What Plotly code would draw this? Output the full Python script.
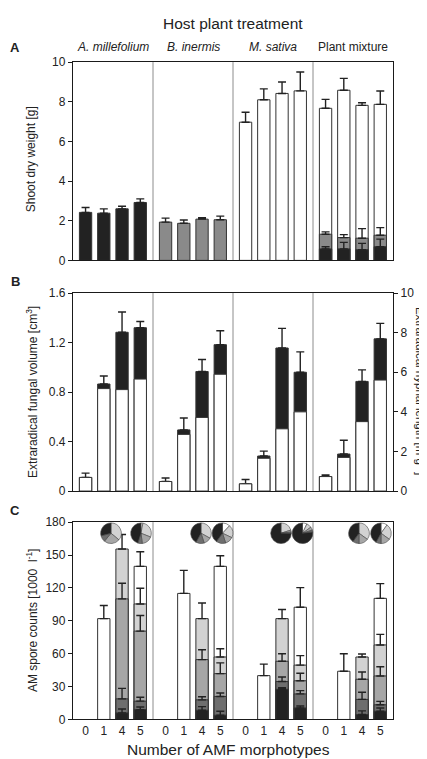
import plotly.graph_objects as go

W, H = 427, 759

# ---------------- data ----------------
groups = ["A. millefolium", "B. inermis", "M. sativa", "Plant mixture"]
group_italic = [True, True, True, False]
morphotypes = ["0", "1", "4", "5"]

# Panel A: shoot dry weight [g]
shoot_amill = [2.42, 2.38, 2.60, 2.92]
shoot_amill_err = [0.25, 0.22, 0.13, 0.18]
shoot_binerm = [1.93, 1.87, 2.08, 2.05]
shoot_binerm_err = [0.20, 0.17, 0.07, 0.18]
shoot_msat = [6.97, 8.10, 8.42, 8.55]
shoot_msat_err = [0.50, 0.55, 0.58, 0.95]
# plant mixture: components stacked (A. millefolium, B. inermis, M. sativa)
mix_amill = [0.58, 0.58, 0.54, 0.69]
mix_amill_err = [0.11, 0.33, 0.32, 0.38]
mix_binerm = [0.74, 0.57, 0.58, 0.58]
mix_binerm_err = [0.12, 0.15, 0.48, 0.38]
mix_msat = [6.35, 7.43, 6.70, 6.60]
mix_msat_err = [0.45, 0.60, 0.13, 0.67]

# Panel B: extraradical fungal volume (white) + hyphal part (black), per group x morphotype
fung_white = [0.110, 0.828, 0.820, 0.905,
              0.077, 0.458, 0.595, 0.944,
              0.058, 0.265, 0.503, 0.640,
              0.117, 0.272, 0.561, 0.897]
fung_black = [0.000, 0.037, 0.463, 0.415,
              0.000, 0.036, 0.371, 0.239,
              0.000, 0.018, 0.653, 0.320,
              0.000, 0.027, 0.325, 0.333]
fung_err = [0.035, 0.065, 0.164, 0.050,
            0.029, 0.096, 0.097, 0.113,
            0.035, 0.040, 0.159, 0.165,
            0.013, 0.111, 0.093, 0.125]

# Panel C: AM spore counts [1000 l-1]
spore_single = [92, 115, 40, 44]          # 1 morphotype bars
spore_single_err = [12, 21, 10.5, 16]
# stacked bars ordered (g1-4, g1-5, g2-4, g2-5, g3-4, g3-5, g4-4, g4-5)
spore_m1 = [6.0, 9.0, 8.4, 3.9, 27.5, 10.5, 4.5, 7.5]
spore_m1_err = [3.6, 2.4, 3.3, 3.6, 1.5, 1.8, 3.3, 3.0]
spore_m2 = [12.8, 7.7, 9.5, 17.1, 7.1, 12.8, 13.8, 5.9]
spore_m2_err = [9.6, 3.6, 2.8, 3.2, 4.2, 3.0, 6.5, 3.1]
spore_m3 = [91.2, 63.9, 36.7, 20.8, 18.5, 12.0, 18.4, 26.3]
spore_m3_err = [14.3, 14.3, 9.0, 9.8, 6.9, 6.8, 6.6, 8.4]
spore_m4 = [45.5, 24.8, 37.4, 15.2, 38.9, 14.3, 20.3, 28.3]
spore_m4_err = [13.2, 14.3, 14.3, 7.5, 8.3, 8.6, 2.7, 9.6]
spore_m5 = [None, 34.3, None, 82.7, None, 52.8, None, 42.5]
spore_m5_err = [0, 13.3, 0, 9.6, 0, 17.9, 0, 13.4]

# pie charts: morphotype shares, clockwise from 12 o'clock (m5, m4, m3, m2, m1)
pie_labels = ["m5", "m4", "m3", "m2", "m1"]
pie_shares = [
    [0.00, 0.36, 0.25, 0.10, 0.29],
    [0.03, 0.28, 0.17, 0.07, 0.45],
    [0.00, 0.33, 0.12, 0.13, 0.42],
    [0.12, 0.20, 0.13, 0.15, 0.40],
    [0.00, 0.20, 0.03, 0.02, 0.75],
    [0.07, 0.08, 0.05, 0.03, 0.77],
    [0.00, 0.35, 0.15, 0.10, 0.40],
    [0.10, 0.25, 0.15, 0.08, 0.42],
]

# ---------------- style / layout ----------------
FONT = "Liberation Sans, Arial, sans-serif"
TXT = "#222222"
OUT = "#333333"
ERR = "#222222"
BLACK = "#222222"
DGRAY = "#6e6e6e"
MGRAY = "#a6a6a6"
LGRAY = "#d2d2d2"
WHITE = "#ffffff"
AGRAY = "#8a8a8a"
SEP = "#8c8c8c"

BW = 0.154
OFF0, STEP = 0.157, 0.228


def xpos(g, i):
    return g + OFF0 + STEP * i


X_L, X_R = 65, 385
PANELS = {"A": (48, 250), "B": (283.3, 485), "C": (516.7, 717.7)}


def ydom(top, bottom):
    return [1 - bottom / H, 1 - top / H]


def px(x):
    return x / W


def py(y):
    return 1 - y / H


fig = go.Figure()


def add_stack(xs, segments, errs, colors, xa, ya):
    n = len(xs)
    run = [0.0] * n
    cum = []
    for seg in segments:
        tops = []
        for j in range(n):
            if seg[j] is None:
                tops.append(None)
            else:
                run[j] += seg[j]
                tops.append(run[j])
        cum.append(tops)
    for k in reversed(range(len(segments))):
        e = errs[k]
        fig.add_trace(go.Bar(
            x=xs, y=cum[k], width=BW,
            marker=dict(color=colors[k], line=dict(color=OUT, width=1)),
            error_y=dict(type="data", symmetric=False,
                         array=[v if v is not None else 0 for v in e] if e is not None else [0] * n,
                         arrayminus=[0] * n, color=ERR, thickness=1.4, width=4,
                         visible=e is not None),
            xaxis=xa, yaxis=ya, showlegend=False, hoverinfo="skip"))


# Panel A
add_stack([xpos(0, i) for i in range(4)], [shoot_amill], [shoot_amill_err], [BLACK], "x", "y")
add_stack([xpos(1, i) for i in range(4)], [shoot_binerm], [shoot_binerm_err], [AGRAY], "x", "y")
add_stack([xpos(2, i) for i in range(4)], [shoot_msat], [shoot_msat_err], [WHITE], "x", "y")
add_stack([xpos(3, i) for i in range(4)], [mix_amill, mix_binerm, mix_msat],
          [mix_amill_err, mix_binerm_err, mix_msat_err], [BLACK, AGRAY, WHITE], "x", "y")

# Panel B
xs16 = [xpos(g, i) for g in range(4) for i in range(4)]
add_stack(xs16, [fung_white, fung_black], [None, fung_err], [WHITE, BLACK], "x2", "y2")
fig.add_trace(go.Scatter(x=[None], y=[None], xaxis="x2", yaxis="y4", showlegend=False,
                         hoverinfo="skip"))

# Panel C
add_stack([xpos(g, 1) for g in range(4)], [spore_single], [spore_single_err], [WHITE], "x3", "y3")
xs8 = [xpos(g, i) for g in range(4) for i in (2, 3)]
add_stack(xs8, [spore_m1, spore_m2, spore_m3, spore_m4, spore_m5],
          [spore_m1_err, spore_m2_err, spore_m3_err, spore_m4_err, spore_m5_err],
          [BLACK, DGRAY, MGRAY, LGRAY, WHITE], "x3", "y3")

# pies
PIE_CX = [103, 133, 193, 214.5, 273, 294.5, 351, 373]
PIE_CY = 528
PIE_R = 10.5
for k, shares in enumerate(pie_shares):
    cx = PIE_CX[k]
    fig.add_trace(go.Pie(
        labels=pie_labels, values=shares, sort=False, direction="clockwise", rotation=0,
        marker=dict(colors=[WHITE, LGRAY, MGRAY, DGRAY, BLACK], line=dict(color="#444", width=0.6)),
        textinfo="none", hoverinfo="skip", showlegend=False,
        domain=dict(x=[px(cx - PIE_R), px(cx + PIE_R)], y=[py(PIE_CY + PIE_R), py(PIE_CY - PIE_R)])))

axis_common = dict(showline=True, linecolor="#1a1a1a", linewidth=1.3, mirror=True,
                   showgrid=False, zeroline=False)
xcommon = dict(axis_common, range=[0, 4], domain=[px(X_L), px(X_R)], ticks="")
ycommon = dict(axis_common, ticks="outside", ticklen=4, tickwidth=1, tickcolor="#1a1a1a",
               tickfont=dict(size=12, color=TXT, family=FONT))

fig.update_layout(
    width=W, height=H, margin=dict(l=0, r=0, t=0, b=0),
    paper_bgcolor="white", plot_bgcolor="white", barmode="overlay",
    font=dict(family=FONT, color=TXT, size=12),
    xaxis=dict(xcommon, anchor="y", showticklabels=False),
    xaxis2=dict(xcommon, anchor="y2", showticklabels=False),
    xaxis3=dict(xcommon, anchor="y3", tickvals=xs16, ticktext=morphotypes * 4,
                tickfont=dict(size=12, color=TXT, family=FONT)),
    yaxis=dict(ycommon, anchor="x", domain=ydom(*PANELS["A"]), range=[0, 10],
               tickvals=[0, 2, 4, 6, 8, 10]),
    yaxis2=dict(ycommon, anchor="x2", domain=ydom(*PANELS["B"]), range=[0, 1.6],
                tickvals=[0, 0.4, 0.8, 1.2, 1.6], ticktext=["0", "0.4", "0.8", "1.2", "1.6"]),
    yaxis4=dict(ycommon, anchor="x2", overlaying="y2", side="right", range=[0, 10],
                tickvals=[0, 2, 4, 6, 8, 10], mirror=False),
    yaxis3=dict(ycommon, anchor="x3", domain=ydom(*PANELS["C"]), range=[0, 180],
                tickvals=[0, 30, 60, 90, 120, 150, 180]),
)

# group separators
shapes = []
for xa, ya in (("x", "y"), ("x2", "y2"), ("x3", "y3")):
    for g in (1, 2, 3):
        shapes.append(dict(type="line", xref=xa, yref=ya + " domain", x0=g, x1=g, y0=0, y1=1,
                           line=dict(color=SEP, width=1), layer="below"))
fig.update_layout(shapes=shapes)

ann = []


def text(x, y, s, size=12, angle=0, **kw):
    ann.append(dict(x=px(x), y=py(y), xref="paper", yref="paper", text=s, showarrow=False,
                    xanchor="center", yanchor="middle", textangle=angle,
                    font=dict(size=size, color=TXT, family=FONT), **kw))


text(225, 9, "Host plant treatment", size=15.5)
for g, name in enumerate(groups):
    s = f"<i>{name}</i>" if group_italic[g] else name
    text(X_L + (g + 0.5) * (X_R - X_L) / 4, 33, s, size=12)
text(7, 33, "<b>A</b>", size=13)
text(7, 271, "<b>B</b>", size=13)
text(7, 505, "<b>C</b>", size=13)
text(23, 147, "Shoot dry weight [g]", angle=-90)
text(24, 384, "Extraradical fungal volume [cm<sup>3</sup>]", angle=-90)
text(413, 383, "Extraradical hyphal length [m g<sup>-1</sup>]", size=11.5, angle=90)
text(23.5, 617, "AM spore counts [1000  l<sup>-1</sup>]", angle=-90)
text(220, 748, "Number of AMF morphotypes", size=15.5)
fig.update_layout(annotations=ann)

fig.write_html("out.html")
